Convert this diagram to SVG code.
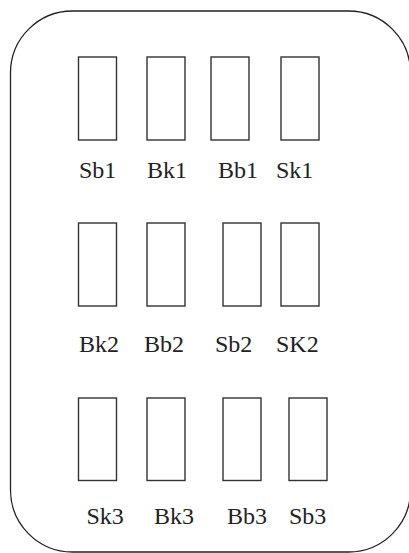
<svg xmlns="http://www.w3.org/2000/svg" width="409" height="553" viewBox="0 0 409 553">
<style>
.box{fill:#fff;stroke:#333;stroke-width:1.4}
.lbl{font-family:"Liberation Serif","Times New Roman",serif;font-size:24px;fill:#222}
.outer{fill:#fff;stroke:#222;stroke-width:1.3}
</style>
<rect x="0" y="0" width="409" height="553" fill="#fff"/>
<rect id="frame" class="outer" x="10.5" y="11" width="400" height="541" rx="62" ry="62"/>
<g id="connectors"/>
<g id="Sb1"><rect class="box" x="78.5" y="57" width="38" height="83"/><text class="lbl" x="79" y="178">Sb1</text></g>
<g id="Bk1"><rect class="box" x="147" y="57" width="38" height="83"/><text class="lbl" x="147" y="178">Bk1</text></g>
<g id="Bb1"><rect class="box" x="211" y="57" width="38" height="83"/><text class="lbl" x="218" y="178">Bb1</text></g>
<g id="Sk1"><rect class="box" x="281" y="57" width="38" height="83"/><text class="lbl" x="276" y="178">Sk1</text></g>
<g id="Bk2"><rect class="box" x="78.5" y="223" width="38" height="83"/><text class="lbl" x="79" y="351.5">Bk2</text></g>
<g id="Bb2"><rect class="box" x="147" y="223" width="38" height="83"/><text class="lbl" x="144" y="351.5">Bb2</text></g>
<g id="Sb2"><rect class="box" x="223" y="223" width="38" height="83"/><text class="lbl" x="215" y="351.5">Sb2</text></g>
<g id="SK2"><rect class="box" x="281" y="223" width="38" height="83"/><text class="lbl" x="276" y="351.5">SK2</text></g>
<g id="Sk3"><rect class="box" x="78.5" y="398" width="38" height="82.5"/><text class="lbl" x="86.5" y="524">Sk3</text></g>
<g id="Bk3"><rect class="box" x="147" y="398" width="38" height="82.5"/><text class="lbl" x="154" y="524">Bk3</text></g>
<g id="Bb3"><rect class="box" x="223" y="398" width="38" height="82.5"/><text class="lbl" x="227" y="524">Bb3</text></g>
<g id="Sb3"><rect class="box" x="289" y="398" width="38" height="82.5"/><text class="lbl" x="289" y="524">Sb3</text></g>
</svg>
